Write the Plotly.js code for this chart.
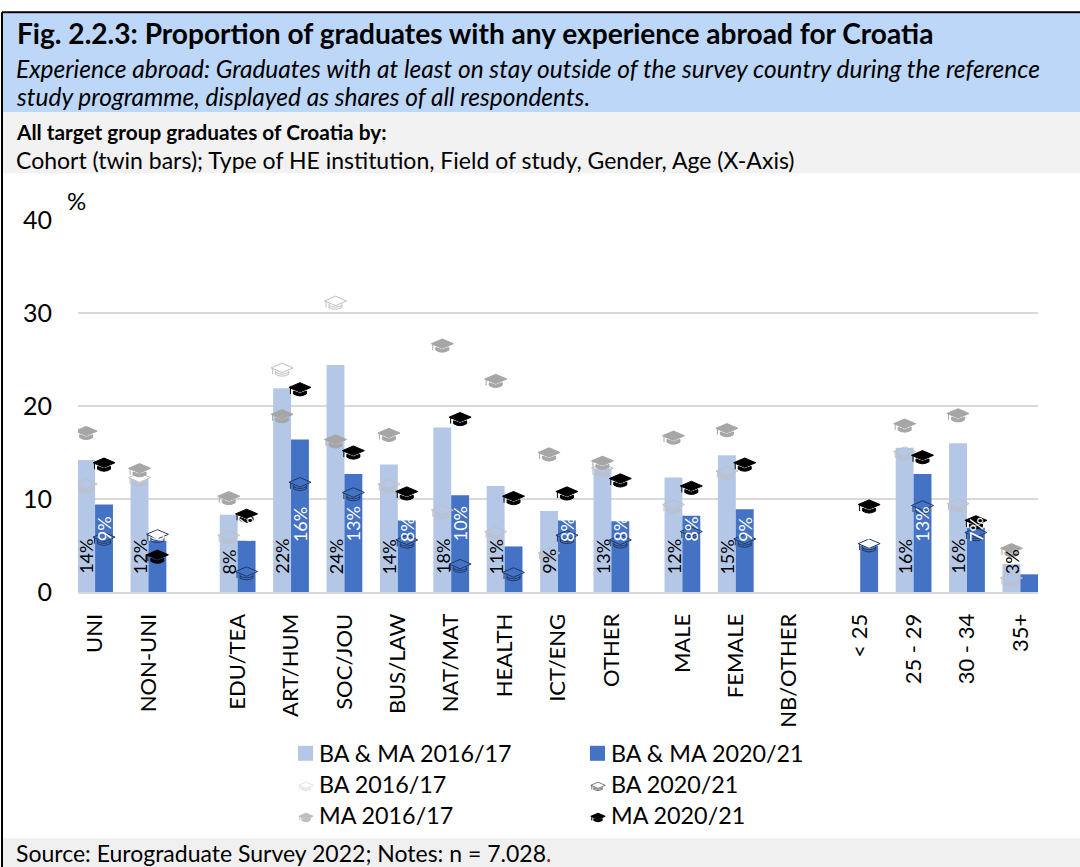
<!DOCTYPE html>
<html>
<head>
<meta charset="utf-8">
<script src="https://cdn.plot.ly/plotly-3.0.1.min.js"></script>
<style>html,body{margin:0;padding:0;background:#fff}#chart{width:1080px;height:867px}</style>
</head>
<body>
<div id="chart"></div>
<script>
// ---- data ----
const groupsOfCategories = [
  ['UNI','NON-UNI'],
  ['EDU/TEA','ART/HUM','SOC/JOU','BUS/LAW','NAT/MAT','HEALTH','ICT/ENG','OTHER'],
  ['MALE','FEMALE','NB/OTHER'],
  ['< 25','25 - 29','30 - 34','35+']
];
const groupGaps = [0, 0.67, 0.33, 0.33];
const baMa1617 = [14.2,12.4,8.3,21.9,24.4,13.7,17.7,11.4,8.7,13.3,12.3,14.7,null,null,15.5,16.0,3.0];
const baMa2021 = [9.4,5.5,5.5,16.4,12.7,7.7,10.4,4.9,7.7,7.6,8.2,8.9,null,5.0,12.7,6.9,1.9];
const ba1617   = [11.6,12.3,6.1,24.1,31.3,11.6,8.8,6.5,4.2,13.3,9.4,13.0,null,null,15.1,9.5,1.5];
const ba2021   = [5.9,6.2,2.2,11.8,10.7,5.6,3.0,2.1,6.1,5.6,6.5,5.7,null,5.2,9.3,6.4,null];
const ma1617   = [17.3,13.3,10.3,19.1,16.4,17.1,26.7,22.9,15.0,14.1,16.8,17.6,null,null,18.1,19.2,4.7];
const ma2021   = [13.9,4.0,8.4,22.0,15.2,10.8,18.8,10.3,10.8,12.2,11.4,13.9,null,9.4,14.7,7.7,null];
const whiteBoardCategories = ['NON-UNI','< 25'];
const legendNames = ['BA & MA 2016/17','BA & MA 2020/21','BA 2016/17','BA 2020/21','MA 2016/17','MA 2020/21'];

// ---- styles ----
const W = 1080, H = 867, ML = 78, MR = 42, MT = 219.7, MB = 275.3;
const FONT = 'Lato, sans-serif';
const LIGHT = '#B4C7E7', DARK = '#4472C4';
const CAP = {ba1617:'#BFBFBF', ba2021:'#1F3864', ma1617:'#A6A6A6', ma2021:'#000000'};

const categories = groupsOfCategories.flat();
const xPos = [];
let cursor = 0;
groupsOfCategories.forEach((g,i)=>{ cursor += groupGaps[i]; g.forEach(()=>{ xPos.push(cursor); cursor += 1; }); });
const OFF = 0.167;
const fx = px => (px-ML)/(W-ML-MR);
const fy = py => (MT+(H-MT-MB)-py)/(H-MT-MB);

function ann(text,px,py,size,extra){
  return Object.assign({text:text,xref:'paper',yref:'paper',x:fx(px-3),y:fy(py),showarrow:false,xanchor:'left',yanchor:'middle',
    font:{family:FONT,size:size,color:'#000'}},extra||{});
}
function rect(x0,y0,x1,y1,color){
  return {type:'rect',xref:'paper',yref:'paper',x0:fx(x0),x1:fx(x1),y0:fy(y0),y1:fy(y1),fillcolor:color,line:{width:0},layer:'below'};
}
function line(x0,y0,x1,y1,color,w){
  return {type:'line',xref:'paper',yref:'paper',x0:fx(x0),x1:fx(x1),y0:fy(y0),y1:fy(y1),line:{color:color,width:w},layer:'above'};
}
// whole cap drawn around the board centre; coordinates in px, y up
function capPath(s,hollow){
  const p=(x,y)=>(x*s).toFixed(1)+','+(y*s).toFixed(1);
  const board='M'+p(-11,0)+' L'+p(0,4.7)+' L'+p(11,0)+' L'+p(0,-4.7)+' Z ';
  const tassel='M'+p(-9.5,0)+' L'+p(-9.5,-6.5)+' ';
  if(hollow){
    return board+tassel+'M'+p(-6.5,-3)+' L'+p(-6.5,-6.5)+' Q'+p(0,-10)+' '+p(6.5,-6.5)+' L'+p(6.5,-3)+' M'+p(-6.5,-4.5)+' Q'+p(0,-8)+' '+p(6.5,-4.5);
  }
  return board+tassel+'M'+p(-6.5,-3.6)+' L'+p(-6.5,-6.5)+' Q'+p(0,-10.5)+' '+p(6.5,-6.5)+' L'+p(6.5,-3.6)+' L'+p(0,-6)+' Z';
}
function capShape(x,y,color,hollow){
  return {type:'path',xref:'x',yref:'y',xsizemode:'pixel',ysizemode:'pixel',xanchor:x,yanchor:y,path:capPath(1,hollow),
    fillcolor:hollow?'rgba(0,0,0,0)':color,line:{color:color,width:1},layer:'above'};
}
function legendCap(px,py,color,hollow){
  return {type:'path',xref:'paper',yref:'paper',xsizemode:'pixel',ysizemode:'pixel',xanchor:fx(px),yanchor:fy(py),
    path:capPath(0.65,hollow),fillcolor:hollow?'rgba(0,0,0,0)':color,line:{color:color,width:hollow?0.8:1},layer:'above'};
}

const shapes = [
  rect(3,13,W,112,'#BDD7F8'),
  rect(3,112,W,173,'#F2F2F2'),
  rect(3,838,W,H,'#F0F0F0'),
  line(2,12,W,12,'#000',2),
  line(2,12,2,H,'#000',2)
];
const annotations = [
  ann('<i>Experience abroad: Graduates with at least on stay outside of the survey country during the reference</i>',17,68,24.5),
  ann('<i>study programme, displayed as shares of all respondents.</i>',17,96,24.5),
  ann('<b>All target group graduates of Croatia by:</b>',17,131,20.8),
  ann('Cohort (twin bars); Type of HE institution, Field of study, Gender, Age (X-Axis)',17,160,23),
  ann('Source: Eurograduate Survey 2022; Notes: n = 7.028<span style="color:#E00000">.</span>',17,852.5,23),
  ann('%',68,200,24)
];

// point traces and their cap drawings
const capSeries = [
  {key:'ba1617',name:legendNames[2],vals:ba1617,off:-OFF,hollow:true},
  {key:'ma1617',name:legendNames[4],vals:ma1617,off:-OFF,hollow:false},
  {key:'ba2021',name:legendNames[3],vals:ba2021,off:OFF,hollow:true},
  {key:'ma2021',name:legendNames[5],vals:ma2021,off:OFF,hollow:false}
];
const capTraces = capSeries.map(s=>{
  const xs = xPos.map(x=>x+s.off);
  xs.forEach((x,i)=>{ if(s.vals[i]!=null) shapes.push(capShape(x,s.vals[i],CAP[s.key],s.hollow)); });
  return {type:'scatter',mode:'markers',name:s.name,x:xs,y:s.vals,showlegend:false,
    marker:{symbol:'diamond-wide',size:s.hollow?15:11,
      color:s.hollow?categories.map(c=>whiteBoardCategories.includes(c)?'#FFFFFF':'rgba(0,0,0,0)'):CAP[s.key],
      line:{width:0}}};
});

// rotated value labels
categories.forEach((c,i)=>{
  const add=(v,off,py,color)=>{ if(v==null) return;
    annotations.push({text:Math.round(v)+'%',xref:'x',yref:'y',x:xPos[i]+off,y:py,showarrow:false,textangle:-90,
      xanchor:'center',yanchor:'bottom',font:{family:FONT,size:18,color:color}});
  };
  add(baMa1617[i],-OFF,1.7,'#000000');
  add(baMa2021[i],OFF,5.2,'#FFFFFF');
});

// legend
const legendRows=[753,784,815], legendCols=[298,590];
[[0,0,null],[0,1,null],[1,0,'ba1617'],[1,1,'ba2021'],[2,0,'ma1617'],[2,1,'ma2021']].forEach((e,i)=>{
  const py=legendRows[e[0]], px=legendCols[e[1]];
  annotations.push(ann(legendNames[i],px+21.5,py,23.3));
  if(e[2]==null){
    shapes.push(rect(px,py-7.5,px+15,py+7.5,e[1]===0?LIGHT:DARK));
  } else {
    const hollow=e[2].startsWith('ba');
    shapes.push(legendCap(px+8,py+1,e[2]==='ba1617'?'#D9D9D9':(e[2]==='ba2021'?'#595959':(e[2]==='ma1617'?'#BFBFBF':'#000')),hollow));
  }
});

const data = [
  {type:'bar',name:legendNames[0],x:xPos,y:baMa1617,marker:{color:LIGHT},showlegend:false},
  {type:'bar',name:legendNames[1],x:xPos,y:baMa2021,marker:{color:DARK},showlegend:false}
].concat(capTraces);

const layout = {
  width:W,height:H,autosize:false,
  margin:{l:ML,r:MR,t:MT,b:MB,pad:0},
  paper_bgcolor:'#fff',plot_bgcolor:'rgba(0,0,0,0)',
  showlegend:false,barmode:'group',bargap:0.33,bargroupgap:0,hovermode:'closest',
  font:{family:FONT,color:'#000'},
  title:{text:'<b>Fig. 2.2.3: Proportion of graduates with any experience abroad for Croatia</b>',
    xref:'container',yref:'container',x:17/W,xanchor:'left',y:1-34/H,yanchor:'middle',pad:{l:0,r:0,t:0,b:0},
    font:{family:FONT,size:28.1,color:'#000'}},
  xaxis:{type:'linear',range:[-0.32,17.66],tickmode:'array',tickvals:xPos,ticktext:categories,tickangle:-90,
    ticks:'',ticklabelstandoff:11,showgrid:false,zeroline:false,showline:true,linecolor:'#D9D9D9',linewidth:2,
    tickfont:{family:FONT,size:22,color:'#000'},automargin:false},
  yaxis:{range:[0,40],tickmode:'array',tickvals:[0,10,20,30,40],ticktext:['0','10','20','30','40'],ticks:'',ticklabelstandoff:25,
    showgrid:true,gridcolor:'#D9D9D9',gridwidth:2,zeroline:false,showline:false,
    tickfont:{family:FONT,size:25,color:'#000'},automargin:false},
  shapes:shapes,annotations:annotations
};
Plotly.newPlot('chart',data,layout,{displayModeBar:false,responsive:false});
</script>
</body>
</html>
